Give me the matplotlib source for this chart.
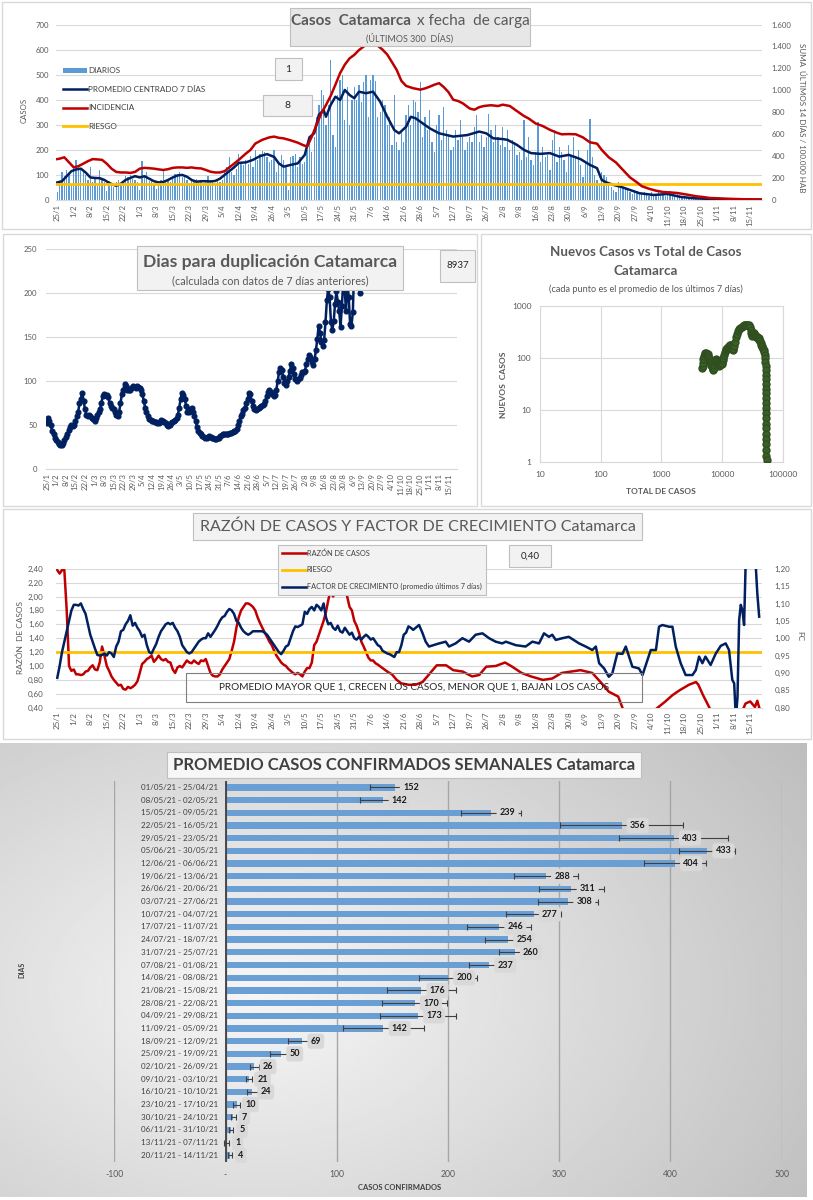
import numpy as np
import matplotlib
matplotlib.use('Agg')
import matplotlib.pyplot as plt
from matplotlib.patches import Rectangle, Patch
from matplotlib.lines import Line2D

plt.rcParams['font.family'] = ['Lato', 'DejaVu Sans']

# ---------------- DATA ----------------
fechas = ['25/1', '1/2', '8/2', '15/2', '22/2', '1/3', '8/3', '15/3', '22/3', '29/3', '5/4', '12/4',
          '19/4', '26/4', '3/5', '10/5', '17/5', '24/5', '31/5', '7/6', '14/6', '21/6', '28/6', '5/7',
          '12/7', '19/7', '26/7', '2/8', '9/8', '16/8', '23/8', '30/8', '6/9', '13/9', '20/9', '27/9',
          '4/10', '11/10', '18/10', '25/10', '1/11', '8/11', '15/11']

# daily cases from 25/1 (one value per day)
diarios = [30, 70, 110, 95, 120, 105, 60,
           130, 160, 140, 125, 110, 100, 80,
           130, 70, 90, 55, 120, 85, 70,
           35, 75, 60, 50, 70, 80, 65,
           75, 95, 90, 100, 85, 80, 70,
           40, 155, 90, 110, 75, 80, 60,
           45, 70, 80, 115, 75, 85, 70,
           90, 105, 100, 110, 90, 95, 80,
           60, 80, 75, 85, 70, 80, 65,
           70, 95, 80, 75, 60, 85, 70,
           80, 120, 130, 170, 110, 100, 125,
           185, 150, 140, 160, 145, 175, 130,
           200, 160, 185, 195, 190, 170, 150,
           160, 200, 110, 150, 180, 160, 140,
           40, 170, 175, 185, 130, 170, 145,
           150, 200, 230, 190, 250, 330, 380,
           440, 420, 300, 380, 560, 260, 210,
           420, 480, 500, 320, 450, 300, 400,
           450, 400, 460, 390, 470, 500, 330,
           480, 500, 475, 330, 350, 400, 380,
           300, 330, 220, 420, 230, 200, 270,
           230, 340, 380, 300, 400, 390, 350,
           470, 250, 330, 280, 360, 230, 190,
           300, 340, 240, 370, 280, 260, 200,
           210, 280, 240, 320, 250, 200, 230,
           250, 230, 290, 340, 230, 260, 210,
           250, 345, 280, 230, 300, 250, 220,
           290, 210, 280, 200, 240, 230, 180,
           190, 160, 320, 170, 250, 160, 140,
           190, 310, 150, 210, 170, 180, 120,
           240, 280, 150, 210, 190, 160, 110,
           220, 180, 250, 170, 200, 140, 90,
           150, 200, 325, 170, 100, 80, 60,
           110, 100, 90, 60, 50, 40, 30,
           70, 60, 50, 45, 40, 30, 25,
           40, 35, 30, 25, 30, 20, 15,
           30, 25, 20, 30, 25, 20, 15,
           30, 35, 25, 20, 25, 20, 15,
           15, 12, 10, 8, 10, 6, 5,
           8, 10, 6, 7, 5, 6, 4,
           6, 5, 4, 6, 5, 3, 2,
           2, 1, 0, 1, 2, 1, 0,
           5, 3, 4, 6, 3, 4, 2]

prom_dias = [0, 2, 4, 6, 8, 10, 12, 14, 16, 18, 20, 22, 24, 25, 27, 29, 31, 33, 35, 37, 39, 41, 43, 45,
             47, 49, 51, 53, 55, 57, 59, 61, 63, 65, 67, 69, 71, 73, 75, 77, 80, 83, 86, 89, 92, 94, 96,
             99, 102, 105, 107, 109, 111, 113, 114, 116, 118, 120, 122, 124, 126, 128, 131, 134, 137,
             140, 143, 145, 148, 150, 152, 155, 158, 162, 168, 174, 179, 182, 185, 189, 191, 195, 198,
             201, 205, 209, 213, 217, 220, 222, 226, 229, 231, 233, 236, 239, 243, 247, 253, 259, 264,
             270, 280, 290, 300]
prom_vals = [70, 75, 95, 115, 122, 125, 110, 90, 88, 87, 80, 68, 60, 57, 65, 80, 88, 95, 90, 95, 85, 75,
             70, 72, 80, 90, 98, 100, 93, 80, 73, 75, 75, 74, 76, 85, 100, 115, 130, 148, 150, 160, 175,
             183, 172, 146, 133, 140, 146, 180, 250, 266, 340, 359, 332, 379, 412, 399, 439, 419, 406,
             432, 426, 432, 392, 332, 279, 266, 292, 332, 326, 306, 286, 266, 253, 259, 273, 266, 246,
             243, 240, 220, 200, 187, 184, 187, 173, 180, 170, 163, 140, 127, 80, 70, 60, 53, 40, 27,
             20, 24, 13, 7, 3, 2, 1]

# incidence: sum of last 14 days / 100.000 inhabitants
inc_dias = [0, 1, 3, 5, 7, 9, 11, 13, 15, 17, 19, 21, 23, 25, 27, 29, 31, 33, 35, 37, 39, 41, 43, 45, 47,
            49, 51, 53, 55, 57, 59, 61, 63, 65, 67, 69, 71, 73, 75, 77, 80, 82, 84, 87, 90, 92, 94, 96,
            99, 102, 104, 106, 108, 110, 112, 114, 116, 118, 120, 122, 124, 126, 128, 130, 132, 134,
            136, 138, 140, 142, 144, 146, 148, 151, 154, 156, 158, 160, 162, 164, 166, 168, 170, 172,
            175, 177, 179, 181, 184, 187, 189, 192, 195, 198, 200, 203, 206, 209, 212, 214, 217, 220,
            223, 226, 229, 231, 234, 237, 240, 243, 246, 248, 251, 254, 257, 260, 263, 265, 268, 271,
            274, 277, 280, 285, 291, 299]
inc_vals = [373, 377, 389, 343, 297, 309, 331, 354, 373, 370, 366, 331, 286, 256, 251, 251, 247, 256, 286,
            293, 290, 286, 279, 274, 281, 293, 297, 297, 293, 297, 290, 288, 274, 258, 251, 251, 263,
            297, 331, 366, 423, 457, 514, 549, 571, 578, 567, 562, 544, 523, 503, 487, 578, 686, 789,
            866, 949, 1051, 1157, 1234, 1291, 1323, 1367, 1399, 1429, 1429, 1406, 1371, 1326, 1257,
            1186, 1086, 1040, 1019, 1006, 1017, 1033, 1051, 1065, 1029, 983, 914, 903, 882, 834, 823,
            846, 857, 864, 857, 869, 857, 811, 766, 743, 697, 674, 640, 613, 599, 601, 599, 571, 526,
            514, 457, 389, 343, 274, 206, 160, 126, 103, 85, 73, 69, 64, 57, 46, 34, 27, 18, 16, 11,
            7, 5]
riesgo_inc = 150

# doubling days (one value per day from 25/1)
duplicacion = [52, 58, 55, 50, 43, 40, 36, 33, 31, 29,
               28, 28, 30, 33, 37, 40, 45, 48, 50, 49,
               50, 55, 60, 65, 75, 80, 87, 78, 68, 62,
               60, 62, 60, 58, 57, 55, 58, 62, 65, 68,
               75, 83, 85, 84, 84, 82, 75, 72, 70, 68,
               65, 62, 60, 65, 75, 85, 90, 97, 95, 90,
               90, 90, 92, 95, 93, 92, 94, 93, 92, 90,
               85, 78, 70, 65, 60, 57, 56, 55, 55, 54,
               54, 53, 53, 54, 56, 55, 54, 52, 50, 49,
               50, 52, 54, 55, 56, 58, 62, 70, 80, 87,
               84, 80, 72, 65, 65, 68, 70, 65, 60, 55,
               48, 43, 41, 40, 38, 37, 36, 36, 37, 38,
               37, 36, 35, 34, 34, 35, 36, 38, 39, 40,
               40, 40, 40, 40, 41, 41, 42, 43, 44, 46,
               50, 55, 60, 63, 67, 70, 75, 80, 87, 85,
               78, 72, 68, 67, 68, 70, 71, 72, 73, 74,
               78, 83, 88, 90, 88, 85, 83, 84, 90, 100,
               110, 115, 113, 105, 98, 96, 100, 105, 112, 120,
               115, 108, 102, 100, 102, 104, 107, 110, 110, 112,
               120, 125, 130, 128, 122, 118, 125, 135, 148, 163,
               155, 145, 140, 147, 167, 192, 205, 195, 167, 158,
               168, 188, 202, 190, 180, 162, 185, 215, 205, 180,
               215, 195, 165, 163, 178, 230, 290, 330, 260, 200]
dup_extra = 8937

# new cases (7-day mean) vs total cases
sc_total = [4700, 4750, 4800, 4900, 5000, 5150, 5300, 5450, 5600, 5750, 5900, 6050, 6200, 6350, 6500,
            6650, 6800, 6950, 7100, 7250, 7400, 7550, 7700, 7850, 8000, 8150, 8300, 8450, 8600, 8750,
            8900, 9050, 9200, 9350, 9500, 9650, 9800, 9950, 10200, 10500, 10800, 11100, 11400, 11700,
            12100, 12500, 12900, 13300, 13700, 14100, 14500, 14900, 15300, 15800, 16300, 16900, 17600,
            18300, 19100, 20000, 20900, 21800, 22700, 23700, 24700, 25700, 26700, 27700, 28500, 29300,
            30000, 30700, 31400, 32200, 33000, 33800, 34600, 35400, 36200, 37000, 37800, 38600, 39300,
            40000, 41000, 42000, 43000, 44000, 45000, 46000, 47000, 48000, 49000, 50000, 50800, 51300,
            51700, 52000, 52200, 52400, 52550, 52700, 52800, 52900, 53000, 53100, 53200, 53250, 53300,
            53350, 53400, 53450, 53500, 53520, 53540, 53560, 53570, 53580]
sc_nuevos = [65, 72, 80, 95, 108, 118, 125, 127, 122, 118, 110, 100, 92, 85, 80,
             75, 68, 62, 60, 66, 74, 82, 88, 92, 95, 92, 88, 84, 78, 75,
             72, 74, 78, 82, 84, 80, 78, 82, 90, 100, 115, 130, 140, 148,
             155, 160, 168, 175, 178, 170, 155, 145, 150, 170, 205, 250, 290,
             330, 360, 385, 400, 420, 430, 440, 435, 430, 435, 425, 400, 350,
             300, 275, 270, 290, 300, 290, 275, 265, 255, 250, 255, 245, 240,
             240, 225, 210, 195, 180, 170, 160, 150, 145, 130, 115, 100, 85,
             70, 58, 48, 40, 32, 26, 21, 17, 14, 11, 9, 7, 5.5,
             4.5, 3.5, 2.8, 2.2, 1.7, 1.3, 1.1, 0.9, 0.6]

# razón de casos (left axis)
rc_dias = list(range(0, 137)) + [138, 140, 142, 144, 146, 149, 152, 155, 158, 161, 165, 168, 172, 176,
                                 179, 182, 186, 190, 193, 197, 201, 206, 210, 214, 218, 222, 227, 231,
                                 234, 238, 240, 244, 250, 254, 258, 261, 264, 268, 271, 272, 274, 277,
                                 282, 288, 291, 292, 294, 296, 297, 298, 299]
rc_vals = [2.38, 2.33, 2.38, 2.38, 1.80, 1.00, 0.93, 0.95, 0.88, 0.88,
           0.87, 0.88, 0.92, 0.93, 0.98, 1.01, 0.95, 0.94, 1.05, 1.28,
           1.15, 1.00, 0.93, 0.85, 0.80, 0.76, 0.72, 0.73, 0.67, 0.66,
           0.70, 0.68, 0.70, 0.73, 0.78, 0.90, 1.03, 1.06, 1.10, 1.12,
           1.15, 1.06, 1.10, 1.15, 1.10, 1.08, 1.10, 1.06, 1.05, 0.95,
           0.90, 0.98, 1.00, 0.98, 1.03, 1.08, 1.05, 1.04, 1.08, 1.05,
           1.03, 1.08, 1.07, 1.10, 1.00, 0.90, 0.86, 0.85, 0.85, 0.88,
           0.95, 1.00, 1.05, 1.10, 1.22, 1.35, 1.55, 1.70, 1.80, 1.85,
           1.90, 1.90, 1.88, 1.85, 1.80, 1.70, 1.62, 1.55, 1.48, 1.42,
           1.35, 1.30, 1.22, 1.15, 1.10, 1.05, 1.02, 1.00, 0.96, 0.93,
           0.90, 0.88, 0.90, 0.88, 0.85, 0.92, 0.97, 0.97, 1.05, 1.30,
           1.35, 1.45, 1.55, 1.65, 1.78, 1.95, 2.10, 2.00, 2.05, 2.10,
           2.20, 2.30, 2.20, 2.00, 1.85, 1.80, 1.65, 1.58, 1.48, 1.35,
           1.28, 1.20, 1.12, 1.08, 1.08, 1.04, 1.02,
           0.97, 0.92, 0.88, 0.80, 0.75, 0.73, 0.73, 0.77, 0.89, 1.01, 1.01, 0.94, 0.92, 0.85,
           0.87, 0.99, 1.00, 1.05, 0.99, 0.90, 0.85, 0.80, 0.82, 0.90, 0.92, 0.94, 0.90, 0.75,
           0.63, 0.56, 0.38, 0.30, 0.30, 0.38, 0.49, 0.58, 0.65, 0.73, 0.77, 0.73, 0.58, 0.38,
           0.25, 0.25, 0.38, 0.46, 0.49, 0.41, 0.50, 0.38, 0.35]
riesgo_rc = 1.20

# factor de crecimiento (right axis)
fc_dias = list(range(0, 152)) + [153.5, 155, 156.3, 157.7, 162, 164.8, 166.2, 169, 171.9, 174.7, 177.5,
                                 180.4, 183.2, 186, 188.8, 190.3, 194.5, 198.7, 201.6, 204.4, 206.5,
                                 208.6, 210, 211.5, 214.3, 217, 221.4, 224.2, 227, 228.5, 229.9, 232,
                                 234, 235.5, 237.6, 239.8, 241.2, 244, 246.8, 248.3, 249.7, 251.8,
                                 254, 255.3, 256.7, 259.6, 261, 262.4, 264.5, 266.6, 269.5, 270.9,
                                 272.3, 273.7, 275, 277.2, 279.4, 281.5, 283.6, 285, 286.4, 287.2,
                                 287.9, 288.6, 289.3, 290, 290.7, 291.4, 292.1, 294.2, 296.3, 297,
                                 297.8]
fc_vals = [0.886, 0.92, 0.96, 0.99, 1.02, 1.05, 1.08, 1.096, 1.096, 1.094,
           1.10, 1.084, 1.07, 1.04, 1.01, 0.99, 0.97, 0.952, 0.95, 0.952,
           0.956, 0.95, 0.96, 0.956, 0.946, 0.976, 0.99, 1.02, 1.024, 1.04,
           1.05, 1.066, 1.036, 1.044, 1.03, 1.02, 1.004, 1.01, 0.98, 0.96,
           0.956, 0.97, 0.984, 1.004, 1.02, 1.03, 1.04, 1.044, 1.04, 1.044,
           1.03, 1.02, 1.004, 0.98, 0.97, 0.96, 0.956, 0.96, 0.97, 0.98,
           0.99, 0.996, 1.0, 1.0, 1.014, 1.004, 1.014, 1.024, 1.036, 1.05,
           1.06, 1.064, 1.076, 1.084, 1.08, 1.07, 1.05, 1.044, 1.03, 1.02,
           1.014, 1.01, 1.014, 1.02, 1.02, 1.02, 1.02, 1.02, 1.016, 1.01,
           1.0, 0.99, 0.98, 0.97, 0.96, 0.954, 0.964, 0.976, 0.98, 1.0,
           1.02, 1.034, 1.032, 1.036, 1.04, 1.076, 1.07, 1.084, 1.09, 1.08,
           1.096, 1.09, 1.08, 1.10, 1.06, 1.04, 1.044, 1.03, 1.024, 1.036,
           1.02, 1.016, 1.03, 1.02, 1.01, 1.016, 1.0, 0.996, 1.004, 0.996,
           1.004, 1.01, 1.004, 0.996, 1.0, 0.99, 0.98, 0.976, 0.964, 0.96,
           0.956, 0.954, 0.95, 0.946, 0.96, 0.96, 0.98, 1.01, 1.016, 1.034,
           1.03, 1.024,
           1.038, 1.014, 0.99, 0.976, 0.985, 0.99, 0.976, 0.985, 1.0, 0.99, 1.01,
           1.014, 1.0, 0.99, 0.985, 0.99, 0.98, 0.976, 0.99, 0.985, 1.014,
           1.004, 1.01, 0.995, 1.0, 1.004, 0.985, 0.976, 0.966, 0.976, 0.928, 0.913,
           0.889, 0.899, 0.956, 0.955, 0.976, 0.918, 0.913, 0.894, 0.923, 0.966,
           0.966, 1.033, 1.038, 1.033, 1.033, 0.976, 0.928, 0.894, 0.894, 0.908,
           0.947, 0.928, 0.947, 0.923, 0.956, 0.978, 0.985, 0.966, 0.88, 0.87,
           0.77, 0.83, 1.052, 1.096, 1.08, 1.038, 1.225, 1.27, 1.215, 1.13,
           1.062]
rc_extra = '0,40'

# weekly averages
semanas = ['01/05/21 - 25/04/21', '08/05/21 - 02/05/21', '15/05/21 - 09/05/21', '22/05/21 - 16/05/21',
           '29/05/21 - 23/05/21', '05/06/21 - 30/05/21', '12/06/21 - 06/06/21', '19/06/21 - 13/06/21',
           '26/06/21 - 20/06/21', '03/07/21 - 27/06/21', '10/07/21 - 04/07/21', '17/07/21 - 11/07/21',
           '24/07/21 - 18/07/21', '31/07/21 - 25/07/21', '07/08/21 - 01/08/21', '14/08/21 - 08/08/21',
           '21/08/21 - 15/08/21', '28/08/21 - 22/08/21', '04/09/21 - 29/08/21', '11/09/21 - 05/09/21',
           '18/09/21 - 12/09/21', '25/09/21 - 19/09/21', '02/10/21 - 26/09/21', '09/10/21 - 03/10/21',
           '16/10/21 - 10/10/21', '23/10/21 - 17/10/21', '30/10/21 - 24/10/21', '06/11/21 - 31/10/21',
           '13/11/21 - 07/11/21', '20/11/21 - 14/11/21']
prom_sem = [152, 142, 239, 356, 403, 433, 404, 288, 311, 308, 277, 246, 254, 260, 237, 200, 176, 170,
            173, 142, 69, 50, 26, 21, 24, 10, 7, 5, 1, 4]
err_sem = [22, 21, 27, 55, 49, 25, 28, 29, 29, 27, 25, 29, 21, 14, 18, 26, 31, 29, 34, 36, 13, 10, 4, 3,
           5, 3, 2, 2, 2, 2]

# ---------------- STYLE ----------------
W, H = 813, 1200
NAVY = '#002060'
RED = '#C00000'
YEL = '#FFC000'
BLUE = '#5B9BD5'
GRID = '#D9D9D9'
TXT = '#595959'

fig = plt.figure(figsize=(W / 100, H / 100), dpi=100)


def rect_ax(x0, y0, x1, y1):
    return [x0 / W, 1 - y1 / H, (x1 - x0) / W, (y1 - y0) / H]


def box(x0, y0, x1, y1, fc='#F2F2F2', ec='#BFBFBF', lw=0.8, z=5):
    r = Rectangle((x0 / W, 1 - y1 / H), (x1 - x0) / W, (y1 - y0) / H, transform=fig.transFigure,
                  facecolor=fc, edgecolor=ec, lw=lw, zorder=z)
    fig.add_artist(r)


def ftext(x, y, s, **kw):
    kw.setdefault('zorder', 6)
    kw.setdefault('color', TXT)
    fig.text(x / W, 1 - y / H, s, **kw)


def es_num(v, dec=0):
    if dec == 0:
        return f'{int(v):,}'.replace(',', '.')
    return f'{v:.{dec}f}'.replace('.', ',')


tick_days = [7 * i for i in range(len(fechas))]

# ---------- bottom background (gradient) ----------
bg = fig.add_axes(rect_ax(0, 743, 806, 1197))
yy, xx = np.mgrid[0:1:200j, 0:1:300j]
rr = np.sqrt((xx - 0.32) ** 2 + ((yy - 0.45) / 1.2) ** 2)
grad = np.clip(0.965 - 0.27 * rr, 0, 1)
bg.imshow(grad, extent=[0, 1, 0, 1], aspect='auto', cmap='gray', vmin=0, vmax=1, origin='lower')
bg.set_axis_off()

# panel frames
for (a, b, c, d) in [(2, 2, 811, 229), (3, 234, 477, 506), (481, 234, 811, 506), (3, 509, 811, 739)]:
    box(a, b, c, d, fc='none', ec='#D9D9D9', lw=1.0, z=1)

# ---------- TOP: casos ----------
ax1 = fig.add_axes(rect_ax(56.1, 24.5, 762, 200))
ax1.bar(np.arange(len(diarios)), diarios, width=0.55, color=BLUE, zorder=2)
ax1.plot(prom_dias, prom_vals, color=NAVY, lw=1.8, zorder=4)
ax1.set_xlim(-0.5, 299)
ax1.set_ylim(0, 700)
ax1.set_yticks(range(0, 701, 100))
ax1.set_yticklabels([str(v) for v in range(0, 701, 100)])
ax1.grid(axis='y', color=GRID, lw=0.8)
ax1.set_axisbelow(True)
ax1.set_xticks(tick_days)
ax1.set_xticklabels(fechas, rotation=90)
ax1.tick_params(axis='both', length=0, labelsize=5.6, colors=TXT)
ax1.tick_params(axis='x', pad=3)
ax1.tick_params(axis='y', pad=5)
for s in ['top', 'left', 'right']:
    ax1.spines[s].set_visible(False)
ax1.spines['bottom'].set_color(GRID)
ax1b = ax1.twinx()
ax1b.plot(inc_dias, inc_vals, color=RED, lw=1.8, zorder=4)
ax1b.axhline(riesgo_inc, color=YEL, lw=2.0, zorder=3)
ax1b.set_ylim(0, 1600)
ax1b.set_yticks(range(0, 1601, 200))
ax1b.set_yticklabels([es_num(v) for v in range(0, 1601, 200)])
ax1b.tick_params(axis='y', length=0, labelsize=5.6, colors=TXT, pad=7)
for s in ax1b.spines.values():
    s.set_visible(False)

ftext(24, 110, 'CASOS', rotation=90, ha='center', va='center', fontsize=5.6)
ftext(802, 118, 'SUMA  ÚLTIMOS 14 DÍAS / 100.000 HAB', rotation=-90, ha='center', va='center', fontsize=5.8)

box(290, 8, 530, 46, fc='#E7E7E7')
ftext(411, 21, 'Casos  Catamarca', ha='right', va='center', fontsize=11, fontweight='bold')
ftext(417, 21, 'x fecha  de carga', ha='left', va='center', fontsize=11)
ftext(410, 38, '(ÚLTIMOS 300  DÍAS)', ha='center', va='center', fontsize=6.5)
box(275, 58, 302, 80)
ftext(288.5, 69, '1', ha='center', va='center', fontsize=7.5, color='#262626')
box(263, 95, 312, 116)
ftext(287.5, 105.5, '8', ha='center', va='center', fontsize=7.5, color='#262626')

h1 = [Patch(fc=BLUE, ec='none'), Line2D([], [], color=NAVY, lw=1.8), Line2D([], [], color=RED, lw=1.8),
      Line2D([], [], color=YEL, lw=2)]
leg1 = fig.legend(h1, ['DIARIOS', 'PROMEDIO CENTRADO 7 DÍAS', 'INCIDENCIA', 'RIESGO'], loc='upper left',
                  bbox_to_anchor=(63 / W, 1 - 67 / H), frameon=False, fontsize=5.9, handlelength=2.9,
                  handleheight=0.6, handletextpad=0.15, labelspacing=1.42, borderpad=0, borderaxespad=0)
for t in leg1.get_texts():
    t.set_color('#404040')

# ---------- MIDDLE LEFT: duplicación ----------
ax2 = fig.add_axes(rect_ax(45.6, 249, 456.7, 469.3))
ax2.plot(np.arange(len(duplicacion)), duplicacion, color=NAVY, lw=1.8, marker='o', ms=3.4, zorder=3)
ax2.set_xlim(-0.8, 300)
ax2.set_ylim(0, 250)
ax2.set_yticks(range(0, 251, 50))
ax2.grid(axis='y', color=GRID, lw=0.8)
ax2.set_axisbelow(True)
ax2.set_xticks(tick_days)
ax2.set_xticklabels(fechas, rotation=90)
ax2.tick_params(axis='both', length=0, labelsize=5.6, colors=TXT)
ax2.tick_params(axis='x', pad=3)
ax2.tick_params(axis='y', pad=6)
for s in ['top', 'left', 'right']:
    ax2.spines[s].set_visible(False)
ax2.spines['bottom'].set_color(GRID)
box(137, 246, 403, 290)
ftext(270, 262, 'Dias para duplicación Catamarca', ha='center', va='center', fontsize=12.6,
      fontweight='bold')
ftext(270, 281, '(calculada con datos de 7 días anteriores)', ha='center', va='center', fontsize=7.8)
box(440, 250, 475, 282)
ftext(457.5, 266, str(dup_extra), ha='center', va='center', fontsize=7, color='#262626')

# ---------- MIDDLE RIGHT: scatter ----------
ax3 = fig.add_axes(rect_ax(539.7, 306, 783, 462.3))
ax3.set_xscale('log')
ax3.set_yscale('log')
ax3.plot(sc_total, sc_nuevos, color='#2F4F1F', lw=1.2, marker='o', ms=5, mfc='#3B5E2B', mec='#2F4F1F',
         zorder=3)
ax3.set_xlim(10, 1e5)
ax3.set_ylim(1, 1000)
ax3.set_xticks([10, 100, 1000, 10000, 100000])
ax3.set_xticklabels(['10', '100', '1000', '10000', '100000'])
ax3.set_yticks([1, 10, 100, 1000])
ax3.set_yticklabels(['1', '10', '100', '1000'])
ax3.minorticks_off()
ax3.grid(True, color=GRID, lw=0.8)
ax3.set_axisbelow(True)
ax3.tick_params(axis='both', length=0, labelsize=6, colors=TXT)
ax3.tick_params(axis='x', pad=6)
ax3.tick_params(axis='y', pad=6)
for s in ax3.spines.values():
    s.set_color(GRID)
ftext(646, 252, 'Nuevos Casos vs Total de Casos', ha='center', va='center', fontsize=9.6, fontweight='bold')
ftext(646, 271, 'Catamarca', ha='center', va='center', fontsize=9.6, fontweight='bold')
ftext(646, 289, '(cada punto es el promedio de los últimos 7 días)', ha='center', va='center', fontsize=6.6)
ftext(661, 492, 'TOTAL DE CASOS', ha='center', va='center', fontsize=6, fontweight='bold')
ftext(503, 385, 'NUEVOS  CASOS', ha='center', va='center', fontsize=6, fontweight='bold', rotation=90)

# ---------- RAZÓN / FC ----------
ax4 = fig.add_axes(rect_ax(56.1, 568.7, 762, 707.7))
ax4.plot(rc_dias, rc_vals, color=RED, lw=1.8, zorder=3)
ax4.axhline(riesgo_rc, color=YEL, lw=2.0, zorder=4)
ax4.set_xlim(-0.5, 299)
ax4.set_ylim(0.4, 2.4)
rticks = [0.4 + 0.2 * i for i in range(11)]
ax4.set_yticks(rticks)
ax4.set_yticklabels([es_num(v, 2) for v in rticks])
ax4.grid(axis='y', color=GRID, lw=0.8)
ax4.set_axisbelow(True)
ax4.set_xticks(tick_days)
ax4.set_xticklabels(fechas, rotation=90)
ax4.tick_params(axis='both', length=0, labelsize=5.8, colors=TXT)
ax4.tick_params(axis='x', pad=3)
ax4.tick_params(axis='y', pad=9)
for s in ['top', 'left', 'right']:
    ax4.spines[s].set_visible(False)
ax4.spines['bottom'].set_color(GRID)
ax4b = ax4.twinx()
ax4b.plot(fc_dias, fc_vals, color=NAVY, lw=1.8, zorder=3)
ax4b.set_ylim(0.8, 1.2)
fticks = [0.8 + 0.05 * i for i in range(9)]
ax4b.set_yticks(fticks)
ax4b.set_yticklabels([es_num(v, 2) for v in fticks])
ax4b.tick_params(axis='y', length=0, labelsize=5.8, colors=TXT, pad=9)
for s in ax4b.spines.values():
    s.set_visible(False)
ftext(20, 638, 'RAZÓN  DE CASOS', rotation=90, ha='center', va='center', fontsize=6)
ftext(800, 636, 'FC', rotation=-90, ha='center', va='center', fontsize=6)
box(193, 513, 642, 540)
ftext(417.5, 527, 'RAZÓN DE CASOS Y FACTOR DE CRECIMIENTO Catamarca', ha='center', va='center', fontsize=11.5)
box(509, 545, 551, 567)
ftext(530, 556, rc_extra, ha='center', va='center', fontsize=7, color='#262626')
box(186, 673, 642, 702, fc='none', ec='#7F7F7F', lw=0.8)
ftext(414, 688, 'PROMEDIO MAYOR QUE 1, CRECEN LOS CASOS, MENOR QUE 1, BAJAN LOS CASOS', ha='center',
      va='center', fontsize=7.2, color='#262626')
h2 = [Line2D([], [], color=RED, lw=1.8), Line2D([], [], color=YEL, lw=2), Line2D([], [], color=NAVY, lw=1.8)]
leg2 = fig.legend(h2, ['RAZÓN DE CASOS', 'RIESGO', 'FACTOR DE CRECIMIENTO (promedio últimos 7 días)'],
                  loc='upper left', bbox_to_anchor=(278 / W, 1 - 545 / H), frameon=True, fancybox=False,
                  facecolor='#F2F2F2', edgecolor='#BFBFBF', framealpha=1, fontsize=5.3, handlelength=3.2,
                  handletextpad=0.1, labelspacing=1.3, borderpad=0.6, borderaxespad=0)
leg2.get_frame().set_linewidth(0.8)
for t in leg2.get_texts():
    t.set_color('#404040')

# ---------- BOTTOM: weekly bars ----------
ax5 = fig.add_axes(rect_ax(114.3, 781, 781.7, 1161.7))
ax5.set_facecolor('none')
yy5 = np.arange(len(prom_sem))
ax5.barh(yy5, prom_sem, height=0.5, color='#6A9FD5', xerr=err_sem, zorder=2,
         error_kw=dict(ecolor='#404040', elinewidth=0.8, capsize=2, capthick=0.8, zorder=3))
ax5.set_xlim(-100, 500)
ax5.set_ylim(len(prom_sem) - 0.5, -0.5)
ax5.set_xticks([-100, 0, 100, 200, 300, 400, 500])
ax5.set_xticklabels(['-100', '-', '100', '200', '300', '400', '500'])
ax5.set_yticks([])
ax5.grid(axis='x', color='#A6A6A6', lw=1.0)
ax5.set_axisbelow(True)
ax5.axvline(0, color='#404040', lw=1.3, zorder=2.5)
ax5.tick_params(axis='x', length=0, labelsize=6.2, colors=TXT, pad=6)
for s in ax5.spines.values():
    s.set_visible(False)
for i, lab in enumerate(semanas):
    ax5.text(-7, i, lab, ha='right', va='center', fontsize=5.8, color='#404040')
for i, v in enumerate(prom_sem):
    ax5.annotate(str(v), xy=(v, i), xytext=(6, 0), textcoords='offset points', ha='left', va='center',
                 fontsize=6.5, fontweight='bold', color='#1A1A1A', zorder=5,
                 bbox=dict(boxstyle='round,pad=0.35', fc='#D9D9D9', ec='none'))
box(167, 752, 641, 778, fc='#F7F7F7', ec='#BFBFBF')
ftext(404, 765.5, 'PROMEDIO CASOS CONFIRMADOS SEMANALES Catamarca', ha='center', va='center', fontsize=12,
      fontweight='bold', color='#404040')
ftext(22, 970, 'DIAS', rotation=90, ha='center', va='center', fontsize=5, fontweight='bold', color='#404040')
ftext(400, 1187, 'CASOS CONFIRMADOS', ha='center', va='center', fontsize=5.5, fontweight='bold',
      color='#404040')

fig.savefig('out.png', dpi=100)
